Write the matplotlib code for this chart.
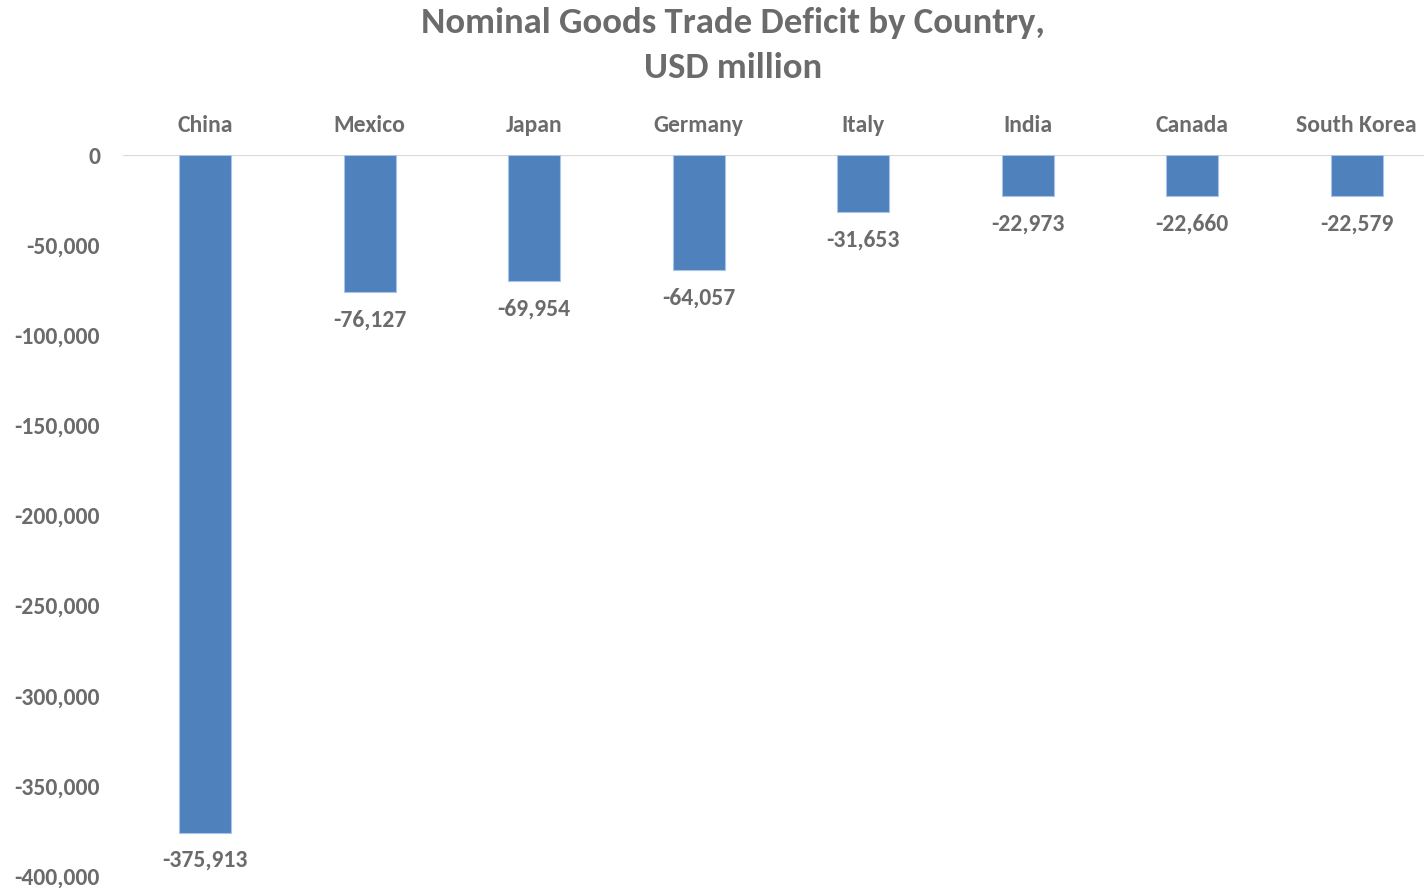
import matplotlib.pyplot as plt
from matplotlib.ticker import FuncFormatter

countries = ["China", "Mexico", "Japan", "Germany", "Italy", "India", "Canada", "South Korea"]
deficits = [-375913, -76127, -69954, -64057, -31653, -22973, -22660, -22579]
y_ticks = [0, -50000, -100000, -150000, -200000, -250000, -300000, -350000, -400000]

BAR_COLOR = "#4f81bd"
BAR_EDGE = "#a9c4e6"
TEXT_COLOR = "#6b6b6b"
ZERO_LINE = "#d9d9d9"
LABEL_SIZE = 17

plt.rcParams["font.family"] = ["Carlito", "DejaVu Sans"]
plt.rcParams["font.weight"] = "bold"

W, H = 1424, 888
fig = plt.figure(figsize=(W / 100, H / 100), dpi=100)

# axes runs past the right edge, so the last column is cut off
left, right, top, bottom = 123, 1439, 155, 876
ax = fig.add_axes([left / W, 1 - bottom / H, (right - left) / W, (bottom - top) / H])

x = list(range(len(countries)))
ax.bar(x, deficits, width=0.315, color=BAR_COLOR, edgecolor=BAR_EDGE, linewidth=0.8, zorder=2)
ax.axhline(0, color=ZERO_LINE, linewidth=1.6, zorder=1)

for xi, val in zip(x, deficits):
    ax.annotate(f"{val:,}", (xi, val), xytext=(0, -28), textcoords="offset pixels",
                ha="center", va="center", fontsize=LABEL_SIZE, fontweight="bold", color=TEXT_COLOR)

ax.set_xlim(-0.5, len(countries) - 0.5)
ax.set_ylim(-400000, 0)
ax.set_yticks(y_ticks)
ax.yaxis.set_major_formatter(FuncFormatter(lambda v, _: f"{int(v):,}"))
ax.tick_params(axis="y", length=0, pad=16.5, labelsize=LABEL_SIZE, labelcolor=TEXT_COLOR)

ax.xaxis.tick_top()
ax.set_xticks(x)
ax.set_xticklabels(countries, fontsize=LABEL_SIZE, fontweight="bold", color=TEXT_COLOR)
ax.tick_params(axis="x", length=0, pad=13.5)

for s in ax.spines.values():
    s.set_visible(False)

fig.text(733 / W, 1 - 23 / H, "Nominal Goods Trade Deficit by Country,",
         ha="center", va="center", fontsize=26.5, fontweight="bold", color=TEXT_COLOR)
fig.text(733 / W, 1 - 68 / H, "USD million",
         ha="center", va="center", fontsize=26.5, fontweight="bold", color=TEXT_COLOR)

fig.savefig("out.png", dpi=100, facecolor="white")
